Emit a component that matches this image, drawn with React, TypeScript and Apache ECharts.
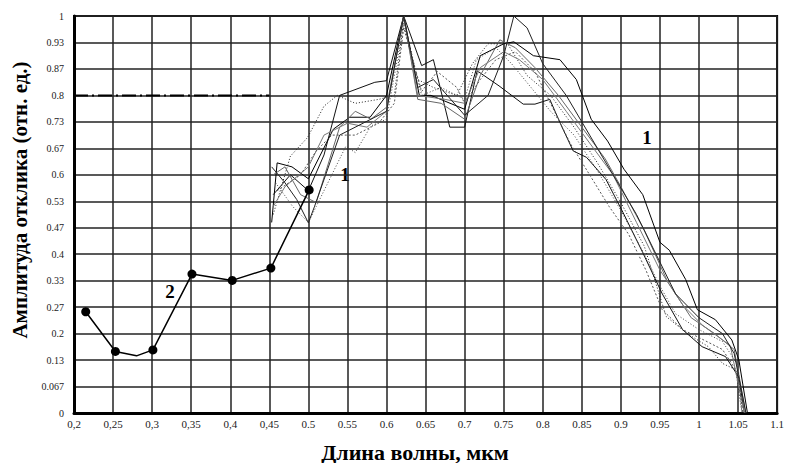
import React, { useEffect, useRef } from "react";
import * as echarts from "echarts";

const xTickLabels = ["0,2", "0,25", "0,3", "0,35", "0,4", "0,45", "0.5", "0.55", "0.6", "0.65", "0.7", "0.75", "0.8", "0.85", "0.9", "0.95", "1", "1.05", "1.1"];
const yTickLabels = ["0", "0.067", "0.13", "0.2", "0.27", "0.33", "0.4", "0.47", "0.53", "0.6", "0.67", "0.73", "0.8", "0.87", "0.93", "1"];

const xAxisTitle = "Длина волны, мкм";
const yAxisTitle = "Амплитуда отклика (отн. ед.)";

// Curve 2 (measured points with markers)
const curve2: (number[] | { value: number[]; symbol: string })[] = [
  [0.215, 0.255], [0.253, 0.155], { value: [0.28, 0.144], symbol: "none" }, [0.301, 0.159],
  [0.351, 0.35], [0.4025, 0.334], [0.452, 0.365], [0.501, 0.562],
];

// Family of curves 1
const c1a = [[0.453, 0.48], [0.46, 0.63], [0.479, 0.62], [0.5, 0.59], [0.532, 0.715], [0.553, 0.745], [0.579, 0.745], [0.6, 0.8], [0.622, 1.0], [0.642, 0.8], [0.657, 0.8], [0.7, 0.765], [0.72, 0.9], [0.75, 0.93], [0.763, 0.935], [0.788, 0.9], [0.822, 0.89], [0.843, 0.84], [0.862, 0.74], [0.883, 0.685], [0.904, 0.614], [0.928, 0.55], [0.95, 0.43], [0.962, 0.41], [0.983, 0.336], [0.998, 0.26], [1.021, 0.235], [1.042, 0.184], [1.051, 0.134], [1.062, 0]];
const c1b = [[0.455, 0.55], [0.477, 0.6], [0.5, 0.56], [0.52, 0.65], [0.54, 0.8], [0.585, 0.833], [0.6, 0.837], [0.622, 1.0], [0.645, 0.875], [0.66, 0.89], [0.681, 0.72], [0.7, 0.72], [0.716, 0.862], [0.744, 0.824], [0.775, 0.778], [0.79, 0.778], [0.809, 0.79], [0.824, 0.723], [0.839, 0.66], [0.856, 0.644], [0.881, 0.588], [0.903, 0.504], [0.928, 0.404], [0.953, 0.3], [0.979, 0.21], [1.004, 0.167], [1.034, 0.142], [1.051, 0.09], [1.058, 0]];
const c1c = [[0.455, 0.6], [0.47, 0.62], [0.49, 0.55], [0.51, 0.53], [0.54, 0.72], [0.56, 0.76], [0.58, 0.74], [0.6, 0.77], [0.622, 1.0], [0.64, 0.79], [0.67, 0.78], [0.7, 0.74], [0.72, 0.85], [0.745, 0.94], [0.765, 0.92], [0.79, 0.87], [0.82, 0.8], [0.85, 0.72], [0.88, 0.64], [0.9, 0.57], [0.93, 0.46], [0.96, 0.33], [0.99, 0.24], [1.02, 0.2], [1.045, 0.16], [1.06, 0]];
const c1d = [[0.455, 0.5], [0.477, 0.647], [0.499, 0.694], [0.52, 0.773], [0.537, 0.8], [0.56, 0.78], [0.59, 0.79], [0.61, 0.8], [0.622, 0.99], [0.64, 0.84], [0.66, 0.82], [0.69, 0.8], [0.71, 0.88], [0.73, 0.93], [0.755, 0.93], [0.78, 0.85], [0.81, 0.8], [0.84, 0.72], [0.87, 0.63], [0.9, 0.53], [0.93, 0.42], [0.958, 0.243], [0.985, 0.2], [1.012, 0.167], [1.03, 0.125], [1.047, 0.109], [1.055, 0]];
const c1e = [[0.455, 0.52], [0.47, 0.57], [0.5, 0.62], [0.52, 0.7], [0.55, 0.73], [0.575, 0.72], [0.6, 0.76], [0.622, 1.0], [0.64, 0.8], [0.675, 0.79], [0.7, 0.78], [0.72, 0.87], [0.75, 0.91], [0.77, 0.89], [0.8, 0.84], [0.83, 0.76], [0.86, 0.68], [0.89, 0.6], [0.92, 0.48], [0.95, 0.36], [0.98, 0.27], [1.005, 0.22], [1.04, 0.17], [1.058, 0]];
const c1f = [[0.458, 0.58], [0.48, 0.52], [0.5, 0.48], [0.51, 0.52], [0.548, 0.672], [0.56, 0.656], [0.58, 0.723], [0.6, 0.74], [0.622, 0.98], [0.645, 0.8], [0.67, 0.82], [0.7, 0.79], [0.715, 0.89], [0.74, 0.92], [0.76, 0.88], [0.785, 0.82], [0.81, 0.76], [0.84, 0.7], [0.87, 0.61], [0.9, 0.51], [0.93, 0.4], [0.95, 0.32], [0.97, 0.25], [1.0, 0.21], [1.03, 0.18], [1.05, 0.12], [1.055, 0]];
const c1g = [[0.453, 0.62], [0.47, 0.58], [0.485, 0.538], [0.5, 0.479], [0.508, 0.521], [0.54, 0.7], [0.57, 0.73], [0.6, 0.76], [0.622, 1.0], [0.64, 0.82], [0.66, 0.84], [0.7, 0.75], [0.73, 0.8], [0.75, 0.9], [0.763, 1.0], [0.78, 0.97], [0.8, 0.88], [0.83, 0.8], [0.86, 0.7], [0.89, 0.6], [0.92, 0.5], [0.945, 0.4], [0.97, 0.3], [1.0, 0.24], [1.03, 0.2], [1.045, 0.15], [1.06, 0]];
const c1h = [[0.46, 0.56], [0.49, 0.6], [0.51, 0.66], [0.53, 0.7], [0.56, 0.7], [0.59, 0.73], [0.61, 0.78], [0.622, 0.97], [0.645, 0.81], [0.665, 0.86], [0.69, 0.82], [0.7, 0.78], [0.72, 0.84], [0.74, 0.89], [0.765, 0.91], [0.79, 0.86], [0.81, 0.78], [0.835, 0.68], [0.86, 0.6], [0.885, 0.52], [0.91, 0.45], [0.932, 0.36], [0.953, 0.26], [0.979, 0.21], [1.0, 0.19], [1.03, 0.16], [1.05, 0.1], [1.056, 0]];

const refLine08 = [[0.2, 0.8], [0.45, 0.8]];

const family1 = [
  { data: c1a, color: "#000", type: "solid" },
  { data: c1b, color: "#111", type: "solid" },
  { data: c1c, color: "#666", type: "solid" },
  { data: c1d, color: "#222", type: [1, 2] },
  { data: c1e, color: "#777", type: "solid" },
  { data: c1f, color: "#444", type: [1, 2] },
  { data: c1g, color: "#222", type: "solid" },
  { data: c1h, color: "#555", type: [2, 2] },
];

export default function App() {
  const ref = useRef<HTMLDivElement>(null);
  useEffect(() => {
    document.body.style.margin = "0";
    const chart = echarts.init(ref.current!, null, { renderer: "svg" });
    const lineSeries = family1.map((f, i) => ({
      name: "1-" + (i + 1),
      type: "line",
      data: f.data,
      symbol: "none",
      lineStyle: { color: f.color, width: 1, type: f.type },
      z: 3,
    }));
    chart.setOption({
      animation: false,
      backgroundColor: "#fff",
      grid: { left: 74, right: 5, top: 16, bottom: 50, show: true, borderColor: "#000", borderWidth: 2 },
      xAxis: {
        type: "value",
        min: 0.2,
        max: 1.1,
        interval: 0.05,
        axisLine: { show: true, onZero: false, lineStyle: { color: "#000", width: 3 } },
        axisTick: { show: false },
        splitLine: { show: true, lineStyle: { color: "#222", width: 1.5 } },
        axisLabel: {
          margin: 5,
          color: "#222",
          fontSize: 11,
          fontFamily: "Liberation Serif",
          showMaxLabel: true,
          showMinLabel: true,
          formatter: (v: number) => xTickLabels[Math.round((v - 0.2) / 0.05)] ?? "",
        },
      },
      yAxis: {
        type: "value",
        min: 0,
        max: 1,
        interval: 1 / 15,
        axisLine: { show: true, lineStyle: { color: "#000", width: 3 } },
        axisTick: { show: false },
        splitLine: { show: true, lineStyle: { color: "#222", width: 1.5 } },
        axisLabel: {
          margin: 10,
          color: "#222",
          fontSize: 10,
          fontFamily: "Liberation Serif",
          formatter: (v: number) => yTickLabels[Math.round(v * 15)] ?? "",
        },
      },
      graphic: [
        { type: "text", x: 20, y: 200, rotation: Math.PI / 2, style: { text: yAxisTitle, font: "bold 21px 'Liberation Serif'", fill: "#000", textAlign: "center", textVerticalAlign: "middle" } },
        { type: "text", x: 415, y: 452, style: { text: xAxisTitle, font: "bold 22px 'Liberation Serif'", fill: "#000", textAlign: "center", textVerticalAlign: "middle" } },
        { type: "text", x: 345, y: 174, style: { text: "1", font: "bold 19px 'Liberation Serif'", fill: "#000", textAlign: "center", textVerticalAlign: "middle" } },
        { type: "text", x: 647, y: 137, style: { text: "1", font: "bold 19px 'Liberation Serif'", fill: "#000", textAlign: "center", textVerticalAlign: "middle" } },
        { type: "text", x: 170, y: 291, style: { text: "2", font: "bold 19px 'Liberation Serif'", fill: "#000", textAlign: "center", textVerticalAlign: "middle" } },
      ],
      series: [
        {
          name: "ref",
          type: "line",
          data: refLine08,
          symbol: "none",
          lineStyle: { color: "#000", width: 2, type: [14, 4, 2, 4] },
          z: 2,
        },
        ...lineSeries,
        {
          name: "2",
          type: "line",
          data: curve2,
          symbol: "circle",
          symbolSize: 9,
          itemStyle: { color: "#000" },
          lineStyle: { color: "#000", width: 1.5 },
          z: 5,
        },
      ],
    });
    return () => chart.dispose();
  }, []);
  return <div ref={ref} style={{ width: 787, height: 463 }} />;
}
